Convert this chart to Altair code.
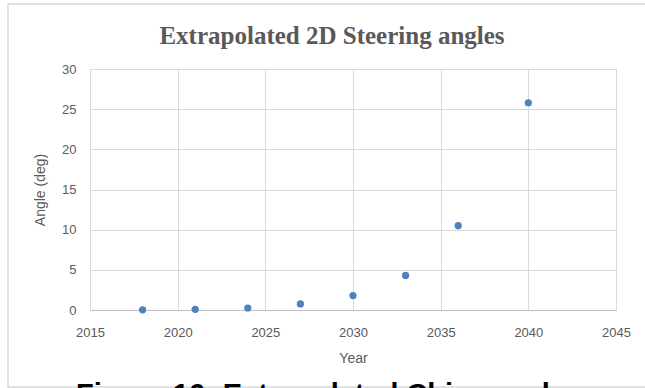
import altair as alt
import pandas as pd

# Extrapolated steering angle per year
years = [2018, 2021, 2024, 2027, 2030, 2033, 2036, 2040]
angles = [0.02, 0.08, 0.25, 0.75, 1.8, 4.3, 10.5, 25.8]

x_ticks = [2015, 2020, 2025, 2030, 2035, 2040, 2045]
y_ticks = [0, 5, 10, 15, 20, 25, 30]

chart_title = "Extrapolated 2D Steering angles"
x_title = "Year"
y_title = "Angle (deg)"
caption = "Figure 16: Extrapolated Chirp angle"

df = pd.DataFrame({"Year": years, "Angle": angles})

label_font = "Liberation Sans"
gray = "#595959"

points = alt.Chart(df).mark_circle(size=52, color="#4f81bd", opacity=1).encode(
    x=alt.X(
        "Year:Q",
        scale=alt.Scale(domain=[2015, 2045], nice=False, zero=False),
        axis=alt.Axis(
            values=x_ticks, format="d", title=x_title, ticks=False,
            labelPadding=16, titlePadding=12, labelFlush=False,
        ),
    ),
    y=alt.Y(
        "Angle:Q",
        scale=alt.Scale(domain=[0, 30], nice=False),
        axis=alt.Axis(
            values=y_ticks, title=y_title, ticks=False, domain=False,
            labelPadding=14, titlePadding=14, labelFlush=False,
        ),
    ),
)

# Light frame around the whole figure
frame = alt.Chart(pd.DataFrame({"k": [0]})).mark_rect(
    fill=None, stroke="#d9d9d9", strokeWidth=1.5
).encode(
    x=alt.value(-82), x2=alt.value(580), y=alt.value(-65), y2=alt.value(318)
)

# Chart heading
head = alt.Chart(pd.DataFrame({"t": [chart_title]})).mark_text(
    font="Liberation Serif", fontWeight="bold", fontSize=25, color=gray,
    baseline="alphabetic", align="center",
).encode(x=alt.value(242), y=alt.value(-25), text="t:N")

# Figure caption beneath the chart
cap = alt.Chart(pd.DataFrame({"t": [caption]})).mark_text(
    font="Liberation Sans", fontWeight="bold", fontSize=29, color="black",
    baseline="alphabetic", align="center",
).encode(x=alt.value(231), y=alt.value(335), text="t:N")

chart = (
    alt.layer(frame, points, head, cap)
    .properties(
        width=526,
        height=241,
        autosize=alt.AutoSizeParams(type="none"),
        padding={"left": 90, "top": 69, "right": 29, "bottom": 78},
        background="white",
    )
    .configure_view(stroke="#d9d9d9", strokeWidth=1)
    .configure_axis(
        labelFont=label_font, labelFontSize=13, labelColor=gray,
        titleFont=label_font, titleFontSize=14, titleColor=gray,
        titleFontWeight="normal", gridColor="#d9d9d9", domainColor="#bfbfbf",
    )
)

chart.save("out.html", embed_options={"renderer": "svg", "actions": False})
